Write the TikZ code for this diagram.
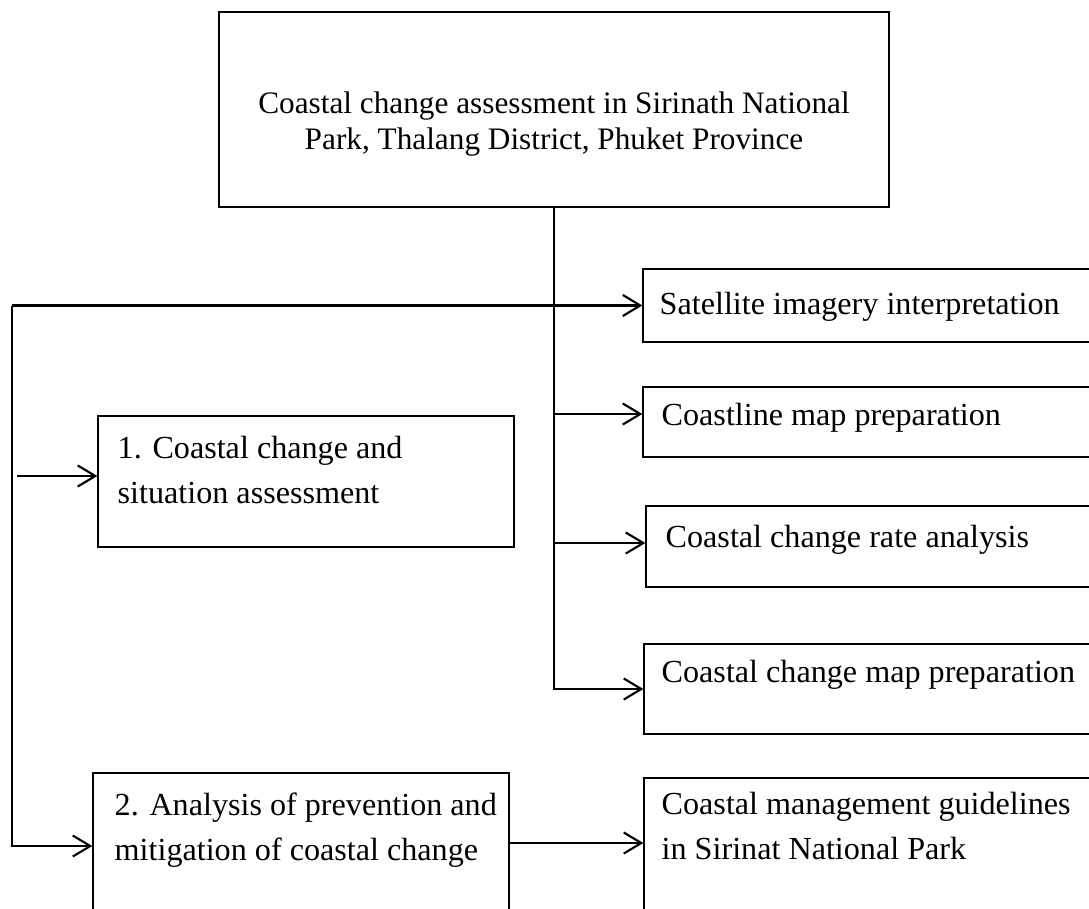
\documentclass[tikz,border=0pt]{standalone}
\usepackage{fontspec}
\setmainfont{Liberation Serif}
\usepackage{tikz}
\usetikzlibrary{calc, positioning, shapes, arrows.meta}
\newcommand\boxfont{\fontsize{18.3pt}{25.6pt}\selectfont}
\newcommand\titlefont{\fontsize{17.8pt}{20.5pt}\selectfont}
\tikzset{
  box/.style={draw, rectangle, line width=0.8pt, inner sep=0pt},
  txt/.style={font=\boxfont, align=left, inner sep=0pt, anchor=north west},
  conn/.style={line width=1.3pt, -{Straight Barb[length=10pt,width=12pt,line width=1.2pt]}}
}

\begin{document}
\begin{tikzpicture}[x=0.02cm, y=-0.02cm]
\useasboundingbox (0,0) rectangle (1089,909);
\clip (0,0) rectangle (1089,909);

\node[box, minimum width=13.4cm, minimum height=3.9cm,
  label={[font=\titlefont, align=center, inner sep=0pt, anchor=north, yshift=-1.6cm]north:Coastal change assessment in Sirinath National\\Park, Thalang District, Phuket Province}] (title) at (554,109.5) {};

\node[box, minimum width=9.34cm, minimum height=1.46cm,
  label={[txt, xshift=0.34cm, yshift=-0.48cm]north west:Satellite imagery interpretation}] (sat) at (876.5,305.5) {};
\node[box, minimum width=9.34cm, minimum height=1.4cm,
  label={[txt, xshift=0.38cm, yshift=-0.34cm]north west:Coastline map preparation}] (line) at (876.5,422) {};
\node[box, minimum width=9.28cm, minimum height=1.62cm,
  label={[txt, xshift=0.4cm, yshift=-0.4cm]north west:Coastal change rate analysis}] (rate) at (878,546.5) {};
\node[box, minimum width=9.32cm, minimum height=1.8cm,
  label={[txt, xshift=0.36cm, yshift=-0.34cm]north west:Coastal change map preparation}] (mapc) at (877,689) {};
\node[box, minimum width=9.32cm, minimum height=3.24cm,
  label={[txt, xshift=0.36cm, yshift=-0.3cm]north west:Coastal management guidelines\\in Sirinat National Park}] (guide) at (877,859) {};

\node[box, minimum width=8.32cm, minimum height=2.62cm,
  label={[txt, xshift=0.4cm, yshift=-0.42cm]north west:1. Coastal change and\\situation assessment}] (assess) at (306,481.5) {};
\node[box, minimum width=8.32cm, minimum height=3.34cm,
  label={[txt, xshift=0.44cm, yshift=-0.4cm]north west:2. Analysis of prevention and\\mitigation of coastal change}] (ana) at (301,856.5) {};

\coordinate (lx) at (12,0);
\coordinate (ltop) at (sat.west -| lx);
\coordinate (lbot) at (12,846);
\coordinate (astart) at (17,476);
\coordinate (lineIn) at ([yshift=0.16cm]line.west);
\coordinate (rateIn) at ([yshift=0.07cm]rate.west);
\coordinate (anaOut) at ([yshift=0.27cm]ana.east);

\draw[conn] (title.south) |- (mapc.west);
\draw[conn] (title.south |- lineIn) -- (lineIn);
\draw[conn] (title.south |- rateIn) -- (rateIn);
\draw[conn] (ltop) -- (sat.west);
\draw[conn] (ltop) -- (lbot) -- (lbot -| ana.west);
\draw[conn] (astart) -- (astart -| assess.west);
\draw[conn] (anaOut) -- (anaOut -| guide.west);
\end{tikzpicture}
\end{document}
